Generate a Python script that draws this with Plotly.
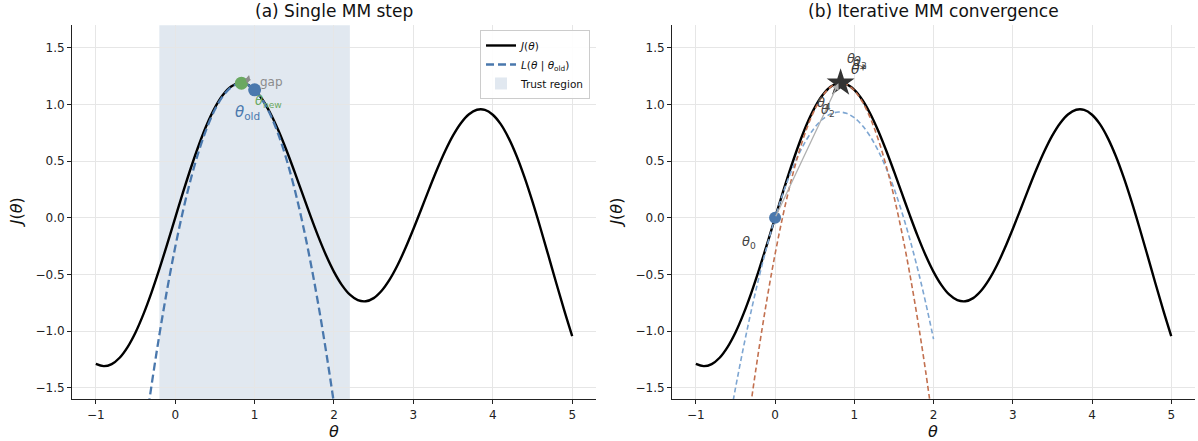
import plotly.graph_objects as go

# ---------------- data ----------------
theta = [-1.0, -0.9, -0.8, -0.7, -0.6, -0.5, -0.4, -0.3, -0.2, -0.1,
         0.0, 0.1, 0.2, 0.3, 0.4, 0.5, 0.6, 0.7, 0.8, 0.9,
         1.0, 1.1, 1.2, 1.3, 1.4, 1.5, 1.6, 1.7, 1.8, 1.9,
         2.0, 2.1, 2.2, 2.3, 2.4, 2.5, 2.6, 2.7, 2.8, 2.9,
         3.0, 3.1, 3.2, 3.3, 3.4, 3.5, 3.6, 3.7, 3.8, 3.9,
         4.0, 4.1, 4.2, 4.3, 4.4, 4.5, 4.6, 4.7, 4.8, 4.9, 5.0]
J_vals = [-1.289, -1.309, -1.291, -1.235, -1.141, -1.012, -0.850, -0.662, -0.453, -0.230,
          0.000, 0.228, 0.446, 0.647, 0.825, 0.972, 1.083, 1.156, 1.188, 1.179,
          1.129, 1.042, 0.920, 0.770, 0.598, 0.411, 0.217, 0.023, -0.162, -0.331,
          -0.477, -0.594, -0.679, -0.727, -0.737, -0.709, -0.644, -0.546, -0.419, -0.267,
          -0.099, 0.078, 0.257, 0.430, 0.589, 0.727, 0.837, 0.914, 0.953, 0.952,
          0.909, 0.826, 0.703, 0.545, 0.356, 0.142, -0.090, -0.332, -0.578, -0.817, -1.044]

# surrogate L(theta | theta_old) in panel (a)
theta_L = [-0.4, -0.3, -0.2, -0.1, 0.0, 0.1, 0.2, 0.3, 0.4, 0.5, 0.6, 0.7, 0.8,
           0.9, 1.0, 1.1, 1.2, 1.3, 1.4, 1.5, 1.6, 1.7, 1.8, 1.9, 2.0, 2.1]
L_vals = [-1.979, -1.487, -1.036, -0.627, -0.259, 0.067, 0.351, 0.594, 0.795, 0.955, 1.073,
          1.149, 1.184, 1.177, 1.129, 1.039, 0.907, 0.734, 0.519, 0.263, -0.035, -0.375,
          -0.756, -1.179, -1.643, -2.149]

theta_old, J_old = 1.0, 1.129
theta_new, J_new = 0.834, 1.188
trust_lo, trust_hi = -0.2, 2.2

# panel (b): first and last surrogate
theta_s0 = [-0.6, -0.5, -0.4, -0.3, -0.2, -0.1, 0.0, 0.1, 0.2, 0.3, 0.4, 0.5, 0.6, 0.7,
            0.8, 0.9, 1.0, 1.1, 1.2, 1.3, 1.4, 1.5, 1.6, 1.7, 1.8, 1.9, 2.0]
s0_vals = [-1.890, -1.504, -1.147, -0.818, -0.517, -0.244, 0.000, 0.216, 0.403, 0.562, 0.693,
           0.796, 0.870, 0.915, 0.933, 0.922, 0.883, 0.815, 0.719, 0.594, 0.442, 0.261,
           0.051, -0.187, -0.453, -0.747, -1.070]
theta_s4 = [-0.4, -0.3, -0.2, -0.1, 0.0, 0.1, 0.2, 0.3, 0.4, 0.5, 0.6, 0.7, 0.8, 0.9,
            1.0, 1.1, 1.2, 1.3, 1.4, 1.5, 1.6, 1.7, 1.8, 1.9, 2.0]
s4_vals = [-2.137, -1.617, -1.141, -0.709, -0.321, 0.022, 0.321, 0.576, 0.787, 0.954, 1.076,
           1.154, 1.188, 1.178, 1.124, 1.025, 0.883, 0.696, 0.464, 0.189, -0.130, -0.494,
           -0.902, -1.354, -1.851]

theta_iter = [0.0, 0.80, 0.826, 0.827, 0.827]
J_iter = [0.0, 1.188, 1.190, 1.190, 1.190]
theta_star, J_star = 0.827, 1.190

x_ticks = [-1, 0, 1, 2, 3, 4, 5]
y_ticks = [-1.5, -1.0, -0.5, 0.0, 0.5, 1.0, 1.5]

# ---------------- figure ----------------
FONT = "DejaVu Sans"
BLACK = "#000000"
BLUE = "#4a78ad"
LBLUE = "#7ea6d2"
ORANGE = "#c2704f"
GREEN = "#6aa861"

fig = go.Figure()

# panel (a)
fig.add_trace(go.Scatter(x=theta, y=J_vals, mode="lines", line=dict(color=BLACK, width=2.4, shape="spline"),
                         name="<i>J</i>(<i>θ</i>)", xaxis="x", yaxis="y"))
fig.add_trace(go.Scatter(x=theta_L, y=L_vals, mode="lines",
                         line=dict(color=BLUE, width=2.3, dash="8px,4px", shape="spline"),
                         name="<i>L</i>(<i>θ</i> | <i>θ</i><sub>old</sub>)", xaxis="x", yaxis="y"))
fig.add_trace(go.Scatter(x=[theta_new], y=[J_new], mode="markers",
                         marker=dict(color=GREEN, size=13), showlegend=False, xaxis="x", yaxis="y"))
fig.add_trace(go.Scatter(x=[theta_old], y=[J_old], mode="markers",
                         marker=dict(color=BLUE, size=13), showlegend=False, xaxis="x", yaxis="y"))

fig.add_shape(type="rect", xref="x", yref="y domain", x0=trust_lo, x1=trust_hi, y0=0, y1=1,
              fillcolor="rgba(76,120,168,0.17)", line=dict(width=0), layer="below",
              showlegend=True, name="Trust region")

# panel (b)
fig.add_trace(go.Scatter(x=theta, y=J_vals, mode="lines", line=dict(color=BLACK, width=2.4, shape="spline"),
                         showlegend=False, xaxis="x2", yaxis="y2"))
fig.add_trace(go.Scatter(x=theta_s0, y=s0_vals, mode="lines",
                         line=dict(color=LBLUE, width=1.6, dash="5px,3px", shape="spline"),
                         showlegend=False, xaxis="x2", yaxis="y2"))
fig.add_trace(go.Scatter(x=theta_s4, y=s4_vals, mode="lines",
                         line=dict(color=ORANGE, width=1.6, dash="5px,3px", shape="spline"),
                         showlegend=False, xaxis="x2", yaxis="y2"))
fig.add_annotation(xref="x2", yref="y2", axref="x2", ayref="y2",
                   x=theta_iter[1], y=J_iter[1], ax=theta_iter[0], ay=J_iter[0],
                   showarrow=True, arrowhead=2, arrowsize=1, arrowwidth=1.3, arrowcolor="#b0b0b0", text="")
fig.add_trace(go.Scatter(x=[theta_iter[0]], y=[J_iter[0]], mode="markers",
                         marker=dict(color=BLUE, size=12), showlegend=False, xaxis="x2", yaxis="y2"))
fig.add_trace(go.Scatter(x=[theta_star], y=[J_star], mode="markers",
                         marker=dict(color="#333333", size=21, symbol="star"), showlegend=False,
                         xaxis="x2", yaxis="y2"))

# texts panel (a)
fig.add_annotation(xref="x", yref="y", x=0.91, y=0.925, text="<i>θ</i><sub>old</sub>", showarrow=False,
                   font=dict(family=FONT, size=15, color=BLUE))
fig.add_annotation(xref="x", yref="y", x=0.975, y=1.03, xanchor="left", text="<i>θ</i><sub>new</sub>",
                   showarrow=False, font=dict(family=FONT, size=13, color=GREEN))
fig.add_annotation(xref="x", yref="y", x=1.04, y=1.195, xanchor="left", text="gap", showarrow=False,
                   font=dict(family=FONT, size=12, color="#8c8c8c"))
fig.add_annotation(xref="x", yref="y", axref="x", ayref="y", x=0.93, y=1.26, ax=0.9, ay=1.17,
                   showarrow=True, arrowhead=2, arrowside="end+start", arrowsize=0.8, arrowwidth=1.3,
                   arrowcolor="#8c8c8c", text="")

# texts panel (b)
lab_font = dict(family=FONT, size=13, color="#444444")
fig.add_annotation(xref="x2", yref="y2", x=-0.33, y=-0.22, text="<i>θ</i><sub>0</sub>", showarrow=False, font=lab_font)
fig.add_annotation(xref="x2", yref="y2", x=0.67, y=0.95, text="<i>θ</i><sub>2</sub>", showarrow=False, font=lab_font)
fig.add_annotation(xref="x2", yref="y2", x=0.62, y=1.01, text="<i>θ</i><sub>4</sub>", showarrow=False, font=lab_font)
fig.add_annotation(xref="x2", yref="y2", x=0.99, y=1.40, text="<i>θ</i><sub>1</sub>", showarrow=False, font=lab_font)
fig.add_annotation(xref="x2", yref="y2", x=1.07, y=1.37, text="<i>θ</i><sub>3</sub>", showarrow=False, font=lab_font)
fig.add_annotation(xref="x2", yref="y2", x=1.06, y=1.31, text="<i>θ</i>*", showarrow=False,
                   font=dict(family=FONT, size=14, color="#333333"))

# titles and axis labels
title_font = dict(family=FONT, size=17, color="#111111")
lab = dict(family=FONT, size=16, color="#111111")
common_txt = dict(xref="paper", yref="paper", showarrow=False, xanchor="center", yanchor="middle")
fig.add_annotation(common_txt, x=0.279, y=0.974, text="(a) Single MM step", font=title_font)
fig.add_annotation(common_txt, x=0.779, y=0.974, text="(b) Iterative MM convergence", font=title_font)
fig.add_annotation(common_txt, x=0.279, y=0.021, text="<i>θ</i>", font=lab)
fig.add_annotation(common_txt, x=0.779, y=0.021, text="<i>θ</i>", font=lab)
fig.add_annotation(common_txt, x=0.0134, y=0.519, text="<i>J</i>(<i>θ</i>)", textangle=-90, font=lab)
fig.add_annotation(common_txt, x=0.5146, y=0.519, text="<i>J</i>(<i>θ</i>)", textangle=-90, font=lab)

axis_common = dict(showline=True, linecolor="#222222", linewidth=1, ticks="outside", ticklen=4,
                   tickcolor="#222222", gridcolor="#e6e6e6", gridwidth=1, zeroline=False,
                   tickfont=dict(family=FONT, size=12, color="#222222"), automargin=False)
xa = dict(axis_common, range=[-1.3, 5.3], tickvals=x_ticks)
ya = dict(axis_common, range=[-1.6, 1.7], tickvals=y_ticks, tickformat=".1f")

fig.update_layout(
    width=1198, height=441,
    margin=dict(l=0, r=0, t=0, b=0),
    paper_bgcolor="white", plot_bgcolor="white",
    font=dict(family=FONT),
    xaxis=dict(xa, domain=[0.0601, 0.4975], anchor="y"),
    yaxis=dict(ya, domain=[0.095, 0.943], anchor="x"),
    xaxis2=dict(xa, domain=[0.561, 0.9975], anchor="y2"),
    yaxis2=dict(ya, domain=[0.095, 0.943], anchor="x2"),
    legend=dict(x=0.4925, xanchor="right", y=0.932, yanchor="top", bgcolor="rgba(255,255,255,0.9)",
                bordercolor="#cccccc", borderwidth=1, font=dict(family=FONT, size=10.5, color="#111111"),
                tracegroupgap=0),
    showlegend=True,
)

fig.write_html("out.html", config={"displayModeBar": False},
               post_script="document.body.style.margin='0';")
